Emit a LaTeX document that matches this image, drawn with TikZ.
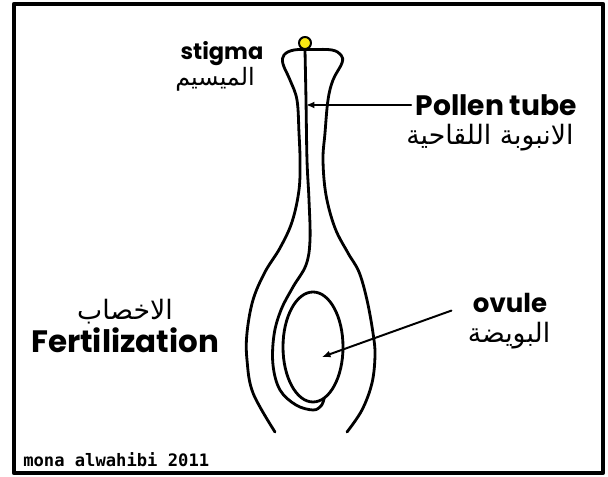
\documentclass[tikz,border=0pt]{standalone}
\usepackage{fontspec}
\setmainfont{Poppins}
\newfontfamily\arabicfont[Script=Arabic]{DejaVu Sans}
\newfontfamily\signfont{DejaVu Sans Mono}
\TeXXeTstate=1
\usetikzlibrary{arrows.meta}
\definecolor{stigmayellow}{RGB}{250,232,20}

\begin{document}
\begin{tikzpicture}[x=0.025cm, y=-0.025cm, >=Latex, line cap=round, line join=round,
  wall/.style={line width=2pt},
  pointer/.style={-{Latex[length=6pt,width=5pt]}, line width=1.4pt},
  eng/.style={font=\bfseries\fontsize{17}{20}\selectfont, inner sep=1pt},
  arab/.style={font=\arabicfont\fontsize{19}{22}\selectfont, inner sep=0pt, anchor=north}]
\useasboundingbox (0,0) rectangle (608,477);
% frame
\draw[line width=3pt] (14,4) rectangle (603,473);

%========================
% pistil: outer wall
%========================
\draw[wall] plot[smooth, tension=0.6] coordinates {
  (275,432) (253,393) (247,360) (247,333) (253,300) (265,272) (280,248)
  (292,222) (299,190) (300,160) (299,133) (297,100) (290,80) (283,64)
  (284,55) (294,50) (313,49.5) (332,50) (341,55) (342,63) (333,80)
  (328,100) (325,133) (323,160) (326,195) (335,228) (348,253) (359,272)
  (367,300) (373,333) (375,355) (372,383) (362,410) (347,432)};

% pollen tube down the style, round the ovule
\draw[wall] plot[smooth, tension=0.6] coordinates {
  (305,50) (306,100) (307,160) (309,200) (310,240) (306,265) (293,287)
  (281,310) (274,335) (273,365) (280,390) (296,405) (313,410) (321,406)
  (324,399)};

% ovule
\draw[wall] (313,347) ellipse [x radius=30, y radius=55];

% stigma
\filldraw[fill=stigmayellow, draw=black, line width=1.4pt] (305,43) circle (6);

%========================
% labels
%========================
\node[eng, font=\bfseries\fontsize{16}{19}\selectfont, anchor=base] (stigma) at (222,60) {stigma};
\node[arab, font=\arabicfont\fontsize{17}{20}\selectfont] (stigmaar) at (215,67) {\beginR الميسيم\endR};

\node[eng, font=\bfseries\fontsize{20}{24}\selectfont, anchor=base west] (tube) at (414,116) {Pollen tube};
\node[arab] (tubear) at (490,124) {\beginR الانبوبة اللقاحية\endR};

\node[eng, font=\bfseries\fontsize{18.5}{22}\selectfont, anchor=base] (ovule) at (510,313) {ovule};
\node[arab] (ovulear) at (509,322) {\beginR البويضة\endR};

\node[arab] (fertar) at (125,299) {\beginR الاخصاب\endR};
\node[eng, font=\bfseries\fontsize{22}{26}\selectfont, anchor=base] (fert) at (125,353) {Fertilization};

\node[anchor=base west, inner sep=0pt, font=\signfont\bfseries\fontsize{12.2}{14}\selectfont] (sign) at (23,467) {mona alwahibi 2011};

% arrows
\coordinate (tubehit) at (306,105);
\coordinate (ovulehit) at (322,357);
\draw[pointer, shorten <=2pt] (tubehit -| tube.west) -- (tubehit);
\draw[pointer, shorten <=15pt] (ovule.west) -- (ovulehit);
\end{tikzpicture}
\end{document}
